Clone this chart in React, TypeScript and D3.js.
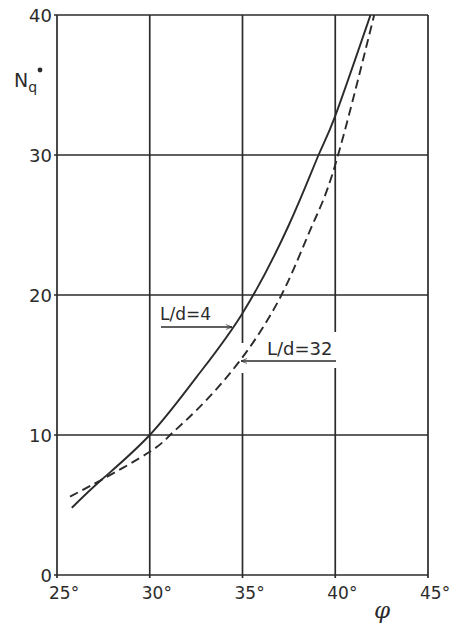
import React from "react";
import * as d3 from "d3";

const xTicks = [25, 30, 35, 40, 45];
const yTicks = [0, 10, 20, 30, 40];
const solidPhi = [25.8, 27.4, 30, 32.5, 35, 37.5, 39.1, 40, 41.9];
const solidN = [4.8, 6.8, 10, 14.1, 18.7, 25, 30, 32.8, 40];
const dashPhi = [25.7, 27.4, 30, 31.1, 32.5, 34.8, 37.1, 38.7, 40, 42.1];
const dashN = [5.6, 6.8, 8.8, 10, 11.75, 15.2, 20, 24.8, 29.3, 40];

export default function App() {
  const W = 450, H = 625;
  const x = d3.scaleLinear().domain([25, 45]).range([57, 428]);
  const y = d3.scaleLinear().domain([0, 40]).range([575, 15]);
  const line = d3.line<[number, number]>().x(d => x(d[0])).y(d => y(d[1])).curve(d3.curveNatural);
  const solid = solidPhi.map((p, i) => [p, solidN[i]] as [number, number]);
  const dashed = dashPhi.map((p, i) => [p, dashN[i]] as [number, number]);
  const ink = "#2b2b2b";
  const font = "'DejaVu Sans', sans-serif";
  return (
    <svg width={W} height={H} style={{ position: "absolute", left: 0, top: 0, background: "#fff" }}>
      <defs>
        <marker id="ah" viewBox="0 0 10 10" refX="10" refY="5" markerWidth="9" markerHeight="6" orient="auto-start-reverse" markerUnits="userSpaceOnUse">
          <path d="M0,1 L10,5 L0,9" fill="none" stroke={ink} strokeWidth="1.2" />
        </marker>
      </defs>
      {/* grid */}
      {xTicks.map(t => (
        <line key={"gx" + t} x1={x(t)} x2={x(t)} y1={y(40)} y2={y(0) + 3} stroke={ink} strokeWidth={1.7} />
      ))}
      {yTicks.map(t => (
        <line key={"gy" + t} x1={x(25) - 3} x2={x(45)} y1={y(t)} y2={y(t)} stroke={ink} strokeWidth={1.7} />
      ))}
      {/* gaps in grid around the L/d=32 annotation */}
      <rect x={x(40) - 3} y={332} width={6} height={36} fill="#fff" />
      <rect x={x(35) - 3} y={343} width={6} height={30} fill="#fff" />
      {/* curves */}
      <path d={line(solid) || ""} fill="none" stroke={ink} strokeWidth={1.9} />
      <path d={line(dashed) || ""} fill="none" stroke={ink} strokeWidth={1.9} strokeDasharray="9,5" />
      {/* labels */}
      <text x={160} y={320} fontFamily={font} fontSize={17} fill={ink}>L/d=4</text>
      <line x1={161} x2={232} y1={327} y2={327} stroke={ink} strokeWidth={1.4} markerEnd="url(#ah)" />
      <text x={267} y={355} fontFamily={font} fontSize={18} fill={ink}>L/d=32</text>
      <line x1={336} x2={241} y1={361} y2={361} stroke={ink} strokeWidth={1.4} markerEnd="url(#ah)" />
      {/* tick labels */}
      {yTicks.map(t => (
        <text key={"ly" + t} x={52} y={y(t) + 7} textAnchor="end" fontFamily={font} fontSize={18} fill={ink}>{t}</text>
      ))}
      {xTicks.map(t => (
        <text key={"lx" + t} x={x(t) - 8} y={599} fontFamily={font} fontSize={17} fill={ink}>{t}°</text>
      ))}
      <text x={374} y={618} fontFamily="'DejaVu Serif', serif" fontStyle="italic" fontSize={23} fill={ink}>φ</text>
      <text x={14} y={87} fontFamily={font} fontSize={19} fill={ink}>N<tspan fontSize={14} dy={5}>q</tspan></text>
      <circle cx={40} cy={70} r={2.4} fill={ink} />
    </svg>
  );
}
